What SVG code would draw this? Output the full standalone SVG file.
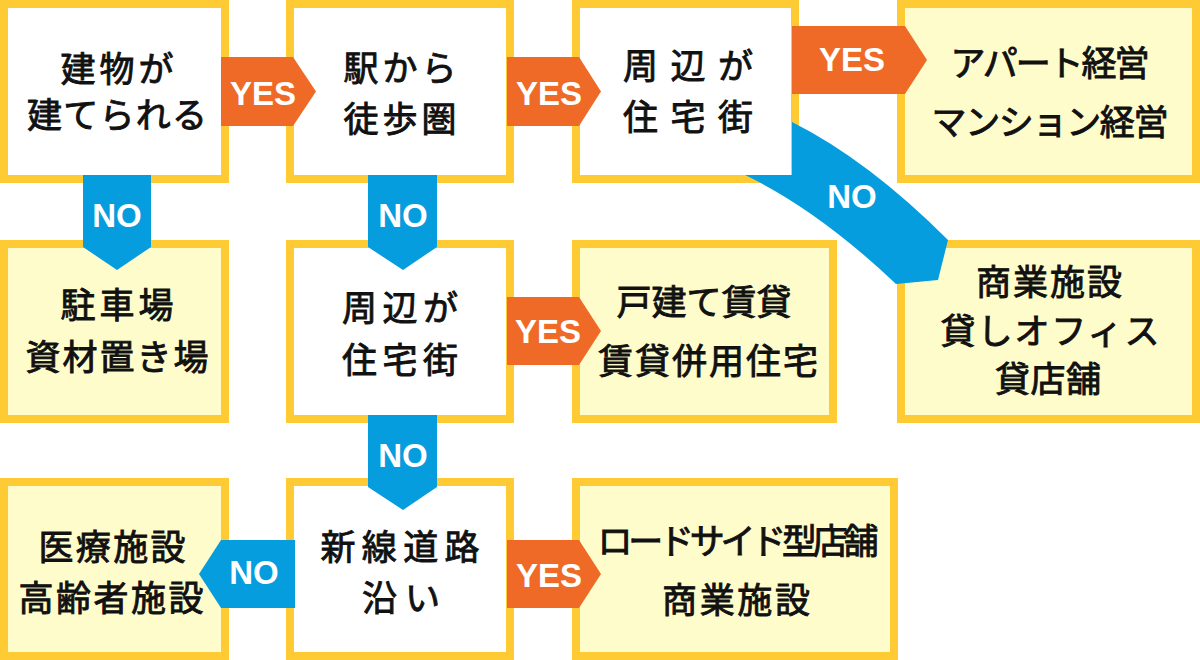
<svg xmlns="http://www.w3.org/2000/svg" width="1200" height="660" viewBox="0 0 1200 660">
<style>
.box{stroke:#FFCB34;stroke-width:8}
.q{fill:#FFFFFF}
.r{fill:#FFFCCB}
.t{font-family:"Noto Sans CJK JP","Noto Sans",sans-serif;font-size:35px;font-weight:400;fill:#111;stroke:#111;stroke-width:0.9px;text-anchor:middle}
.y{fill:#EF6A27}
.n{fill:#059DDE}
.l{font-family:"Liberation Sans",Arial,sans-serif;font-size:33px;font-weight:bold;fill:#fff;text-anchor:middle}
</style>
<rect width="1200" height="660" fill="#fff"/>
<g id="n1"><rect class="box q" x="4" y="4" width="221" height="175"/>
<text class="t" x="117" y="82" textLength="113" lengthAdjust="spacing">建物が</text>
<text class="t" x="117" y="128" textLength="180" lengthAdjust="spacing">建てられる</text></g>
<g id="n2"><rect class="box q" x="290" y="4" width="220" height="175"/>
<text class="t" x="400" y="81" textLength="113" lengthAdjust="spacing">駅から</text>
<text class="t" x="400" y="132" textLength="113" lengthAdjust="spacing">徒歩圏</text></g>
<g id="n3"><rect class="box q" x="576" y="4" width="219" height="175"/>
<text class="t" x="688" y="79" textLength="130" lengthAdjust="spacing">周辺が</text>
<text class="t" x="688" y="130" textLength="130" lengthAdjust="spacing">住宅街</text></g>
<g id="n4"><rect class="box r" x="901" y="4" width="295" height="175"/>
<text class="t" x="1050" y="76" textLength="199" lengthAdjust="spacing">アパート経営</text>
<text class="t" x="1050" y="135" textLength="237" lengthAdjust="spacing">マンション経営</text></g>
<g id="n5"><rect class="box r" x="4" y="244" width="221" height="175"/>
<text class="t" x="117" y="318" textLength="113" lengthAdjust="spacing">駐車場</text>
<text class="t" x="117" y="370" textLength="183" lengthAdjust="spacing">資材置き場</text></g>
<g id="n6"><rect class="box q" x="290" y="244" width="220" height="175"/>
<text class="t" x="400" y="321" textLength="116" lengthAdjust="spacing">周辺が</text>
<text class="t" x="400" y="373" textLength="116" lengthAdjust="spacing">住宅街</text></g>
<g id="n7"><rect class="box r" x="576" y="244" width="257" height="175"/>
<text class="t" x="704" y="315" textLength="175" lengthAdjust="spacing">戸建て賃貸</text>
<text class="t" x="708" y="374" textLength="220" lengthAdjust="spacing">賃貸併用住宅</text></g>
<g id="n8"><rect class="box r" x="901" y="244" width="295" height="175"/>
<text class="t" x="1049" y="295" textLength="146" lengthAdjust="spacing">商業施設</text>
<text class="t" x="1050" y="344" textLength="219" lengthAdjust="spacing">貸しオフィス</text>
<text class="t" x="1048" y="392" textLength="106" lengthAdjust="spacing">貸店舗</text></g>
<g id="n9"><rect class="box r" x="4" y="482" width="221" height="174"/>
<text class="t" x="112" y="560" textLength="147" lengthAdjust="spacing">医療施設</text>
<text class="t" x="111" y="611" textLength="185" lengthAdjust="spacing">高齢者施設</text></g>
<g id="n10"><rect class="box q" x="290" y="482" width="220" height="174"/>
<text class="t" x="400" y="560" textLength="159" lengthAdjust="spacing">新線道路</text>
<text class="t" x="401" y="611" textLength="78" lengthAdjust="spacing">沿い</text></g>
<g id="n11"><rect class="box r" x="576" y="482" width="318" height="174"/>
<text class="t" x="738" y="554" textLength="281" lengthAdjust="spacing">ロードサイド型店舗</text>
<text class="t" x="736" y="613" textLength="148" lengthAdjust="spacing">商業施設</text></g>
<g id="connectors">
<polygon class="y" points="221,57 293,57 316,91.5 293,126 221,126"/>
<text class="l" x="263" y="105">YES</text>
<polygon class="y" points="507,57 579,57 601,91.5 579,126 507,126"/>
<text class="l" x="549" y="105">YES</text>
<polygon class="y" points="792,26 905,26 927,60 905,94 792,94"/>
<text class="l" x="852" y="71">YES</text>
<polygon class="y" points="507,297 579,297 601,331 579,365 507,365"/>
<text class="l" x="548" y="343">YES</text>
<polygon class="y" points="507,540 579,540 601,574 579,608 507,608"/>
<text class="l" x="549" y="587">YES</text>
<polygon class="n" points="83,175 151,175 151,247 117,270 83,247"/>
<text class="l" x="117" y="227">NO</text>
<polygon class="n" points="368,175 437,175 437,247 403,270 368,247"/>
<text class="l" x="403" y="227">NO</text>
<polygon class="n" points="368,415 437,415 437,487 403,510 368,487"/>
<text class="l" x="403" y="467">NO</text>
<polygon class="n" points="295,540 221,540 199,574 221,608 295,608"/>
<text class="l" x="254" y="584">NO</text>
<path class="n" d="M792,122 Q868,160 948,240 L938,280 L896,284 Q818,210 745,175 L792,175 Z"/>
<text class="l" x="852" y="208">NO</text>
</g>
</svg>
